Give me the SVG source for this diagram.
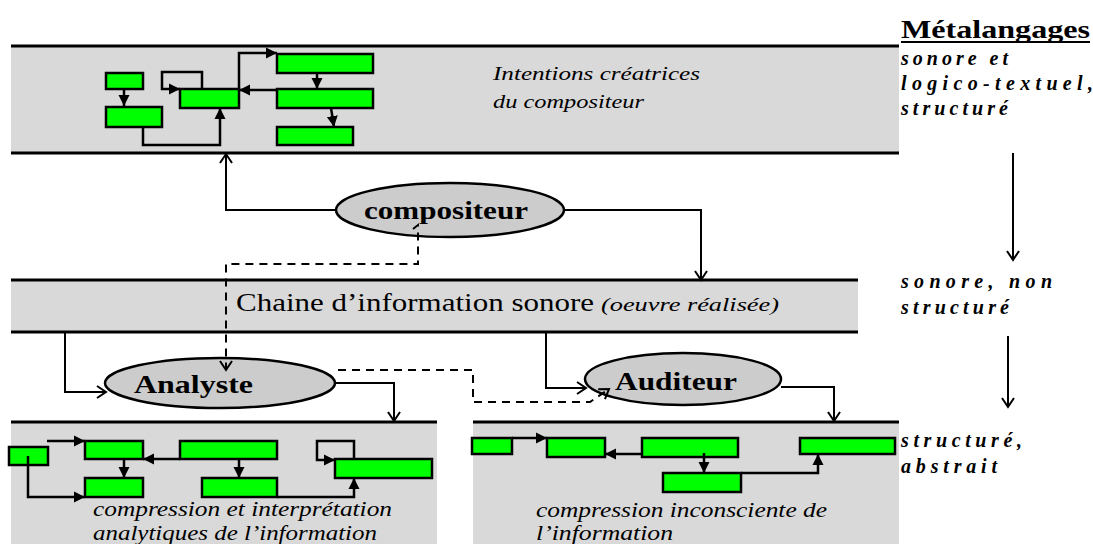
<svg xmlns="http://www.w3.org/2000/svg" width="1093" height="544" viewBox="0 0 1093 544">
<style>
.band{fill:#d9d9d9;stroke:none}
.bl{stroke:#000;stroke-width:3;fill:none}
.g{fill:#00ff00;stroke:#000;stroke-width:2.5}
.sl{fill:none;stroke:#000;stroke-width:2.5}
.c{fill:none;stroke:#000;stroke-width:2}
.d{fill:none;stroke:#000;stroke-width:2;stroke-dasharray:8,6}
.ell{fill:#cccccc;stroke:#000;stroke-width:2.5}
.lab{font-family:"Liberation Serif",serif;font-weight:bold;font-size:26px;fill:#000}
.it{font-family:"Liberation Serif",serif;font-style:italic;font-size:19px;fill:#000}
.it2{font-family:"Liberation Serif",serif;font-style:italic;font-size:20px;fill:#000}
.meta{font-family:"Liberation Serif",serif;font-style:italic;font-weight:bold;font-size:20px;fill:#000}
.reg{font-family:"Liberation Serif",serif;font-size:25px;fill:#000}
</style>
<defs>
<marker id="op" markerWidth="16" markerHeight="16" refX="13" refY="8" orient="auto" markerUnits="userSpaceOnUse"><path d="M4,2 L13,8 L4,14" fill="none" stroke="#000" stroke-width="2"/></marker>
<marker id="tri" markerWidth="13" markerHeight="13" refX="11" refY="6.5" orient="auto" markerUnits="userSpaceOnUse"><path d="M0,1 L11,6.5 L0,12 z" fill="#000"/></marker>
</defs>

<g id="band-top">
<rect class="band" x="11" y="46" width="888" height="107"/>
<line class="bl" x1="11" y1="46" x2="899" y2="46"/>
<line class="bl" x1="11" y1="153" x2="899" y2="153"/>
<text class="it" x="493" y="80" textLength="207" lengthAdjust="spacingAndGlyphs">Intentions créatrices</text>
<text class="it" x="493" y="108" textLength="151" lengthAdjust="spacingAndGlyphs">du compositeur</text>
</g>
<g id="band-mid">
<rect class="band" x="11" y="280" width="847" height="52"/>
<line class="bl" x1="11" y1="280" x2="858" y2="280"/>
<line class="bl" x1="11" y1="332" x2="858" y2="332"/>
<text class="reg" x="236" y="311" textLength="358" lengthAdjust="spacingAndGlyphs">Chaine d’information sonore</text>
<text class="it" x="601" y="311" textLength="178" lengthAdjust="spacingAndGlyphs">(oeuvre réalisée)</text>
</g>
<g id="band-bl">
<rect class="band" x="11" y="422" width="426" height="122"/>
<line class="bl" x1="11" y1="422" x2="437" y2="422"/>
<text class="it2" x="93" y="516" textLength="299" lengthAdjust="spacingAndGlyphs">compression et interprétation</text>
<text class="it2" x="93" y="540" textLength="284" lengthAdjust="spacingAndGlyphs">analytiques de l’information</text>
</g>
<g id="band-br">
<rect class="band" x="473" y="422" width="426" height="122"/>
<line class="bl" x1="473" y1="422" x2="899" y2="422"/>
<text class="it2" x="536" y="517" textLength="291" lengthAdjust="spacingAndGlyphs">compression inconsciente de</text>
<text class="it2" x="536" y="540" textLength="137" lengthAdjust="spacingAndGlyphs">l’information</text>
</g>

<g id="mini-top">
<rect class="g" x="106" y="73" width="37" height="16"/>
<rect class="g" x="106" y="107" width="56" height="20"/>
<rect class="g" x="180" y="89" width="59" height="19"/>
<rect class="g" x="277" y="54" width="96" height="19"/>
<rect class="g" x="277" y="89" width="96" height="19"/>
<rect class="g" x="277" y="127" width="76" height="18"/>
<path class="sl" d="M124,89 V106" marker-end="url(#tri)"/>
<path class="sl" d="M202,89 V72 H162 V89 H180" marker-end="url(#tri)"/>
<path class="sl" d="M143,127 V145 H220 V108" marker-end="url(#tri)"/>
<path class="sl" d="M239,89 V53 H277" marker-end="url(#tri)"/>
<path class="sl" d="M277,90 H239" marker-end="url(#tri)"/>
<path class="sl" d="M317,73 V89" marker-end="url(#tri)"/>
<path class="sl" d="M331,108 L334,127" marker-end="url(#tri)"/>
</g>

<g id="mini-bl">
<rect class="g" x="9" y="447" width="39" height="18"/>
<rect class="g" x="85" y="441" width="58" height="18"/>
<rect class="g" x="85" y="478" width="58" height="19"/>
<rect class="g" x="180" y="441" width="97" height="18"/>
<rect class="g" x="202" y="478" width="75" height="19"/>
<rect class="g" x="335" y="459" width="97" height="19"/>
<path class="sl" d="M47,441 H85" marker-end="url(#tri)"/>
<path class="sl" d="M28,456 V497 H85" marker-end="url(#tri)"/>
<path class="sl" d="M124,459 V478" marker-end="url(#tri)"/>
<path class="sl" d="M180,459 H143" marker-end="url(#tri)"/>
<path class="sl" d="M239,459 V478" marker-end="url(#tri)"/>
<path class="sl" d="M277,497 H354 V478" marker-end="url(#tri)"/>
<path class="sl" d="M354,459 V441 H317 V460 H335" marker-end="url(#tri)"/>
</g>

<g id="mini-br">
<rect class="g" x="472" y="438" width="40" height="16"/>
<rect class="g" x="547" y="438" width="58" height="19"/>
<rect class="g" x="642" y="438" width="96" height="19"/>
<rect class="g" x="663" y="473" width="78" height="19"/>
<rect class="g" x="800" y="438" width="95" height="16"/>
<path class="sl" d="M512,438 H547" marker-end="url(#tri)"/>
<path class="sl" d="M642,454 H605" marker-end="url(#tri)"/>
<path class="sl" d="M704,453 V473" marker-end="url(#tri)"/>
<path class="sl" d="M741,473 H818 V454" marker-end="url(#tri)"/>
</g>

<g id="compositeur">
<ellipse class="ell" cx="450" cy="210" rx="114" ry="27"/>
<text class="lab" x="364" y="219" textLength="164" lengthAdjust="spacingAndGlyphs">compositeur</text>
</g>
<g id="analyste">
<ellipse class="ell" cx="220" cy="383" rx="115" ry="25"/>
<text class="lab" x="134" y="393" textLength="119" lengthAdjust="spacingAndGlyphs">Analyste</text>
</g>
<g id="auditeur">
<ellipse class="ell" cx="683" cy="379" rx="98" ry="26"/>
<text class="lab" x="615" y="390" textLength="122" lengthAdjust="spacingAndGlyphs">Auditeur</text>
</g>

<g id="connectors">
<path class="c" d="M336,210 H226 V154" marker-end="url(#op)"/>
<path class="c" d="M565,210 H701 V280" marker-end="url(#op)"/>
<path class="d" d="M413,229 L418,225 V264 H226 V370" marker-end="url(#op)"/>
<path class="c" d="M65,333 V392 H106" marker-end="url(#op)"/>
<path class="c" d="M335,383 H394 V421" marker-end="url(#op)"/>
<path class="d" d="M338,370 H473 V402 H590 L609,389" marker-end="url(#op)"/>
<path class="c" d="M546,333 V388 H586" marker-end="url(#op)"/>
<path class="c" d="M781,387 H834 V421" marker-end="url(#op)"/>
<path class="c" d="M1013,153 V260" marker-end="url(#op)"/>
<path class="c" d="M1008,336 V407" marker-end="url(#op)"/>
</g>

<g id="metalangages">
<text class="reg" x="901" y="38" style="font-weight:bold;font-size:26px" textLength="189" lengthAdjust="spacingAndGlyphs">Métalangages</text>
<line x1="901" y1="42" x2="1090" y2="42" stroke="#000" stroke-width="2"/>
<text class="meta" x="901" y="65" textLength="107" lengthAdjust="spacing">sonore et</text>
<text class="meta" x="901" y="90" textLength="192" lengthAdjust="spacing">logico-textuel,</text>
<text class="meta" x="901" y="115" textLength="107" lengthAdjust="spacing">structuré</text>
<text class="meta" x="901" y="288" textLength="151" lengthAdjust="spacing">sonore, non</text>
<text class="meta" x="901" y="314" textLength="108" lengthAdjust="spacing">structuré</text>
<text class="meta" x="901" y="447" textLength="121" lengthAdjust="spacing">structuré,</text>
<text class="meta" x="901" y="473" textLength="96" lengthAdjust="spacing">abstrait</text>
</g>
</svg>
